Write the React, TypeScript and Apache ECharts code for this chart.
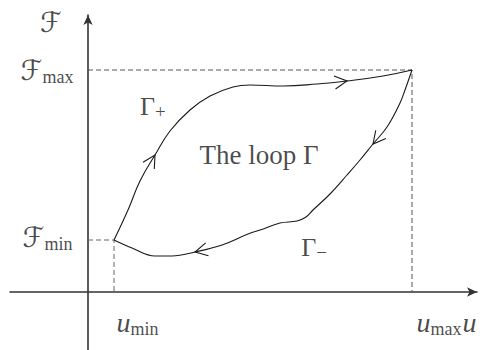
import React, { useEffect, useRef } from "react";
import * as echarts from "echarts";

// Key values of the loop (u along horizontal axis, F along vertical axis)
const uMin = 26;
const uMax = 324;
const FMin = 52;
const FMax = 222;

// Upper branch Γ+ (traversed from (uMin,FMin) to (uMax,FMax))
const gammaPlus: number[][] = [
  [26, 52], [40, 82], [52, 111], [67, 137], [82, 161], [102, 182], [122, 196],
  [145, 205], [162, 207], [195, 206], [229, 208], [259, 211], [295, 216], [324, 222],
];
// Lower branch Γ− (traversed from (uMax,FMax) back to (uMin,FMin))
const gammaMinus: number[][] = [
  [324, 222], [317, 202], [312, 189], [299, 165], [285, 148], [272, 132], [259, 117],
  [242, 98], [225, 82], [218, 75], [209, 71], [192, 69], [172, 62], [160, 58],
  [134, 47], [107, 40], [84, 36], [67, 36], [44, 44], [26, 52],
];
// Points of each branch that carry a direction arrow
const arrowsPlus = [3, 11];
const arrowsMinus = [4, 15];

// Free text annotations anchored in data coordinates
const regionLabels = [
  { name: "Fname", text: "{F|ℱ}", at: [-37, 270] },
  { name: "uname", text: "{u|u}", at: [375, 0] },
  { name: "gplus", text: "{G|Γ}{gs|+}", at: [52, 186] },
  { name: "loop", text: "{T|The loop Γ}", at: [171, 137] },
  { name: "gminus", text: "{G|Γ}{gs|−}", at: [226, 45] },
];

const SERIF = "'Liberation Serif', 'DejaVu Serif', serif";
const SCRIPT = "'DejaVu Serif', 'DejaVu Sans', serif";
const INK = "#1a1a1a";

const rich = {
  F: { fontFamily: SCRIPT, fontSize: 28, color: INK, lineHeight: 32 },
  s: { fontFamily: SERIF, fontSize: 18, color: INK, lineHeight: 21, verticalAlign: "bottom" },
  u: { fontFamily: SERIF, fontStyle: "italic", fontSize: 28, color: INK, lineHeight: 30 },
  G: { fontFamily: SERIF, fontSize: 26, color: INK, lineHeight: 30 },
  gs: { fontFamily: SERIF, fontSize: 19, color: INK, lineHeight: 21, verticalAlign: "bottom" },
  T: { fontFamily: SERIF, fontSize: 27, color: INK, lineHeight: 32 },
};

function arrowItems(branch: number[][], idx: number[]) {
  return idx.map((i) => {
    const p = branch[i];
    const a = branch[Math.max(0, i - 1)];
    const b = branch[Math.min(branch.length - 1, i + 1)];
    return [p[0], p[1], a[0], a[1], b[0], b[1]];
  });
}

const axisCommon = {
  type: "value" as const,
  axisTick: { show: false },
  axisLabel: { show: false },
  splitLine: { show: false },
  axisLine: {
    show: true,
    onZero: true,
    symbol: ["none", "arrow"],
    symbolSize: [7, 10],
    lineStyle: { color: "#333", width: 1.6 },
  },
};

export default function App() {
  const ref = useRef<HTMLDivElement>(null);
  useEffect(() => {
    document.body.style.margin = "0";
    if (!ref.current) return;
    const chart = echarts.init(ref.current, undefined, { renderer: "svg" });

    const labelItem = (value: number[], text: string, extra: any) => ({
      value,
      label: { show: true, formatter: text, rich, ...extra },
    });

    const option: any = {
      animation: false,
      backgroundColor: "#fff",
      grid: { left: 10, right: 5, top: 15, bottom: 0, containLabel: false, outerBoundsMode: "none" },
      xAxis: { ...axisCommon, min: -78, max: 389 },
      yAxis: { ...axisCommon, min: -58, max: 277 },
      series: [
        {
          type: "line",
          data: [[0, FMax], [uMax, FMax], [uMax, 0]],
          showSymbol: false,
          silent: true,
          lineStyle: { color: "#555", width: 1, type: [5, 3] },
        },
        {
          type: "line",
          data: [[0, FMin], [uMin, FMin], [uMin, 0]],
          showSymbol: false,
          silent: true,
          lineStyle: { color: "#666", width: 1, type: [5, 3] },
        },
        {
          type: "line",
          data: gammaPlus,
          smooth: 0.45,
          showSymbol: false,
          silent: true,
          lineStyle: { color: INK, width: 1.1 },
        },
        {
          type: "line",
          data: gammaMinus,
          smooth: 0.4,
          showSymbol: false,
          silent: true,
          lineStyle: { color: INK, width: 1.1 },
        },
        {
          type: "custom",
          silent: true,
          data: [...arrowItems(gammaPlus, arrowsPlus), ...arrowItems(gammaMinus, arrowsMinus)],
          renderItem: (_params: any, api: any) => {
            const p = api.coord([api.value(0), api.value(1)]);
            const a = api.coord([api.value(2), api.value(3)]);
            const b = api.coord([api.value(4), api.value(5)]);
            let dx = b[0] - a[0];
            let dy = b[1] - a[1];
            const len = Math.hypot(dx, dy) || 1;
            dx /= len;
            dy /= len;
            const L = 14;
            const ang = (28 * Math.PI) / 180;
            const bx = -dx, by = -dy;
            const rot = (t: number) => [
              p[0] + L * (bx * Math.cos(t) - by * Math.sin(t)),
              p[1] + L * (bx * Math.sin(t) + by * Math.cos(t)),
            ];
            return {
              type: "polyline",
              shape: { points: [rot(ang), p, rot(-ang)] },
              style: { stroke: INK, fill: "none", lineWidth: 1.1 },
            };
          },
        },
        {
          type: "scatter",
          symbolSize: 1,
          itemStyle: { color: "rgba(0,0,0,0)" },
          silent: true,
          data: [
            labelItem([0, FMax], "{F|ℱ}{s|max}", { position: "left", distance: 14 }),
            labelItem([0, FMin], "{F|ℱ}{s|min}", { position: "left", distance: 15, offset: [0, -3] }),
            labelItem([uMin, 0], "{u|u}{s|min}", { position: [3, 16], align: "left", verticalAlign: "top" }),
            labelItem([uMax, 0], "{u|u}{s|max}", { position: [5, 16], align: "left", verticalAlign: "top" }),
            ...regionLabels.map((r) =>
              labelItem(r.at, r.text, {
                position: r.name === "uname" ? [0, 16] : "inside",
                align: r.name === "uname" || r.name === "gplus" ? "left" : "center",
                verticalAlign: r.name === "uname" ? "top" : "middle",
              })
            ),
          ],
        },
      ],
    };
    chart.setOption(option);
    return () => chart.dispose();
  }, []);
  return <div ref={ref} style={{ width: 482, height: 350 }} />;
}
